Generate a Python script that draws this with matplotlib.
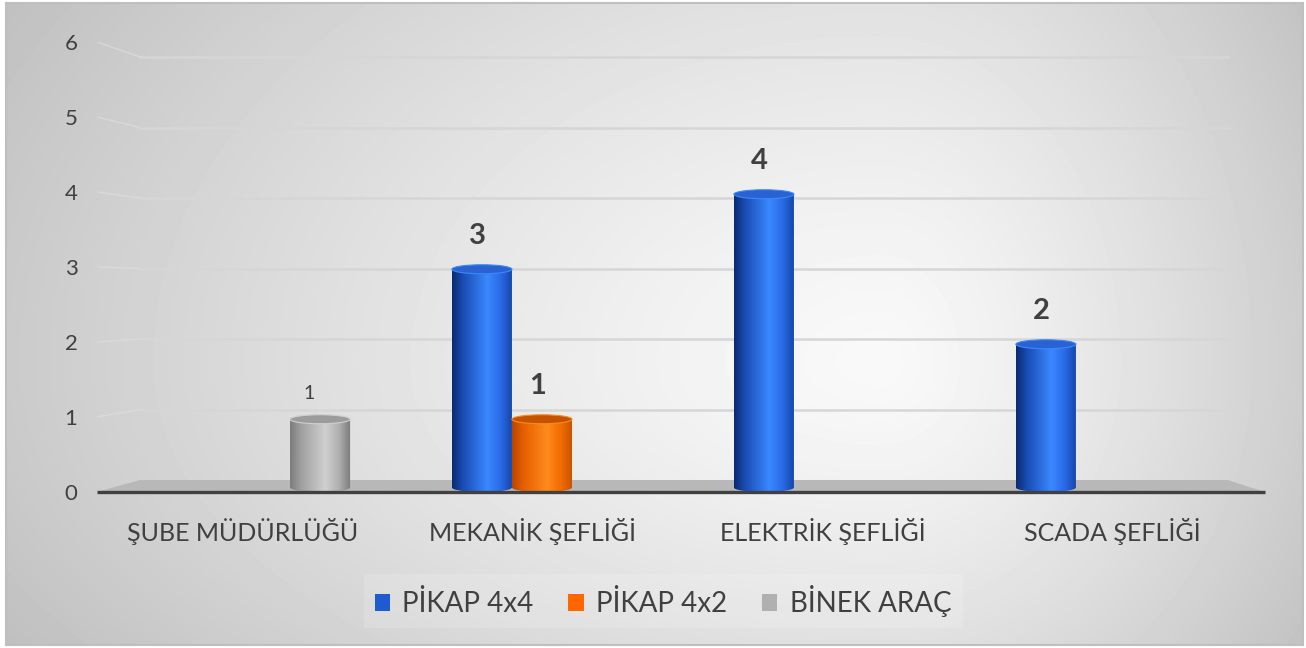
import numpy as np
import matplotlib.pyplot as plt
import matplotlib.transforms as mtransforms
from matplotlib.patches import Ellipse, Polygon, Patch, PathPatch
from matplotlib.path import Path
from matplotlib.colors import LinearSegmentedColormap

plt.rcParams['font.family'] = ['Lato', 'DejaVu Sans']

categories = ['ŞUBE MÜDÜRLÜĞÜ', 'MEKANİK ŞEFLİĞİ', 'ELEKTRİK ŞEFLİĞİ', 'SCADA ŞEFLİĞİ']
series_names = ['PİKAP 4x4', 'PİKAP 4x2', 'BİNEK ARAÇ']
pikap_4x4 = [0, 3, 4, 2]
pikap_4x2 = [0, 1, 0, 0]
binek_arac = [1, 0, 0, 0]
y_ticks = [0, 1, 2, 3, 4, 5, 6]

legend_colors = ['#1f5bd0', '#ff6600', '#b0b0b0']
# horizontal shading across each cylinder, left -> right
shades = [
    ['#0a2a6e', '#1a4cb4', '#3a88ff', '#2a6ae6', '#1444a6'],
    ['#b84400', '#e65f00', '#ff8a1c', '#f26c00', '#c85200'],
    ['#7c7c7c', '#a0a0a0', '#d0d0d0', '#b0b0b0', '#7a7a7a'],
]
top_colors = ['#2a62d2', '#c45200', '#9c9c9c']
text_color = '#404040'

W, H = 1306, 648
fig = plt.figure(figsize=(W / 100, H / 100), dpi=100)

# chart area background: off-centre radial gradient
bg = fig.add_axes([6 / W, 3 / H, 1297 / W, 642 / H], zorder=-5)
yy, xx = np.mgrid[0:642, 0:1297]
dx = xx - 874
dy = yy - 360
sx = np.where(dx < 0, 920, 470)
sy = np.where(dy < 0, 640, 480)
d = np.sqrt((dx / sx) ** 2 + (dy / sy) ** 2)
shade = 249 - 50 * np.clip(d, 0, 1.2) ** 1.3
bg.imshow(shade, cmap='gray', vmin=0, vmax=255, aspect='auto')
bg.set_xticks([])
bg.set_yticks([])
for s in bg.spines.values():
    s.set_color('#bfbfbf')
    s.set_linewidth(1.5)

ax = fig.add_axes([97 / W, (H - 492) / H, 1168 / W, 450 / H])
ax.patch.set_alpha(0)
for s in ax.spines.values():
    s.set_visible(False)

x = np.arange(len(categories))
width = 0.213
offsets = [-width, 0, width]
all_series = [pikap_4x4, pikap_4x2, binek_arac]

trans = mtransforms.blended_transform_factory(ax.transAxes, ax.transData)

# floor and back wall gridlines
back_l, back_r, back_y0, back_k = 0.0368, 0.968, 0.16, 0.94
ax.add_patch(Polygon([(0, 0), (back_l, back_y0), (back_r, back_y0), (1, 0)],
                     closed=True, transform=trans, facecolor='#b8b8b8',
                     edgecolor='none', zorder=1))
for v in y_ticks[1:]:
    yb = back_y0 + back_k * v
    ax.plot([back_l, back_r], [yb, yb], transform=trans, color='#d6d6d6',
            lw=1.8, zorder=0.5)
    ax.plot([0, back_l], [v, yb], transform=trans, color='#dedede',
            lw=1.0, alpha=0.7, zorder=0.5)
ax.plot([0, 1], [0, 0], transform=trans, color='#404040', lw=2.4,
        zorder=6, clip_on=False, solid_capstyle='butt')


def cylinder(ax, x0, w, h, colors, top_color, e=0.06):
    x1 = x0 + w
    xc = x0 + w / 2
    yt, yb = h - e + 0.03, e
    theta = np.linspace(np.pi, 2 * np.pi, 40)
    arc = np.column_stack([xc + w / 2 * np.cos(theta), yb + e * np.sin(theta)])
    verts = np.vstack([[x0, yt], arc, [x1, yt], [x0, yt]])
    body = PathPatch(Path(verts, closed=True), facecolor='none',
                     edgecolor='none', zorder=3)
    ax.add_patch(body)
    cmap = LinearSegmentedColormap.from_list(
        'cyl', list(zip([0, 0.18, 0.58, 0.8, 1], colors)))
    im = ax.imshow(np.linspace(0, 1, 256)[None, :], cmap=cmap,
                   extent=(x0, x1, 0, yt), aspect='auto', zorder=3)
    im.set_clip_path(body)
    ax.add_patch(Ellipse((xc, yt), w, 2 * e, facecolor=top_color,
                         edgecolor=colors[2], lw=0.8, zorder=4))


for k, vals in enumerate(all_series):
    bars = ax.bar(x + offsets[k], vals, width, color='none', zorder=2)
    for rect, v in zip(bars, vals):
        if v <= 0:
            continue
        cylinder(ax, rect.get_x(), rect.get_width(), rect.get_height(),
                 shades[k], top_colors[k])
        if k == 2:
            ax.annotate(str(v), (rect.get_x() + rect.get_width() / 2, v),
                        xytext=(-8, 17), textcoords='offset points',
                        ha='center', va='center', fontsize=14,
                        color=text_color)
        else:
            ax.annotate(str(v), (rect.get_x() + rect.get_width() / 2, v),
                        xytext=(-3, 22), textcoords='offset points',
                        ha='center', va='center', fontsize=21,
                        fontweight='bold', color=text_color)

ax.set_xlim(-0.578, 3.564)
ax.set_ylim(0, 6)
ax.set_yticks(y_ticks)
ax.set_yticklabels([str(t) for t in y_ticks], fontsize=16, color=text_color)
ax.set_xticks(x * 1.028 - 0.06)
ax.set_xticklabels(categories, fontsize=18, color=text_color)
ax.tick_params(axis='y', length=0, pad=14)
ax.tick_params(axis='x', length=0, pad=19)

handles = [Patch(facecolor=c, edgecolor='none') for c in legend_colors]
leg = fig.legend(handles, series_names, loc='center',
                 bbox_to_anchor=(663 / W, 1 - 601 / H), ncol=3,
                 fontsize=20, frameon=True, fancybox=False,
                 facecolor='white', framealpha=0.15, edgecolor='none',
                 handlelength=0.55, handleheight=0.55, handletextpad=0.45,
                 columnspacing=1.25, labelcolor=text_color)

fig.savefig('out.png', dpi=100, facecolor='white')
